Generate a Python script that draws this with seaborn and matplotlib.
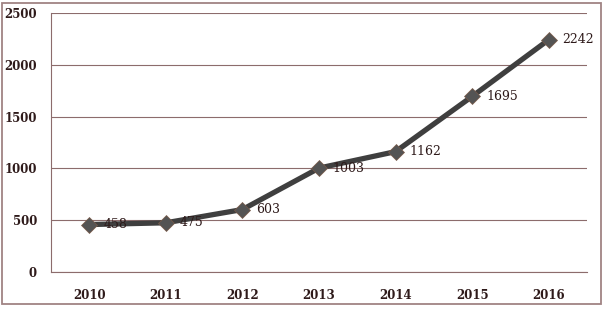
import numpy as np
import pandas as pd
import matplotlib
matplotlib.use("Agg")
import matplotlib.pyplot as plt
import seaborn as sns
from matplotlib.patches import Rectangle

# data
years = ["2010", "2011", "2012", "2013", "2014", "2015", "2016"]
counts = [458, 475, 603, 1003, 1162, 1695, 2242]

df = pd.DataFrame({"year": years, "count": counts})

sns.set_style("white")
plt.rcParams["font.family"] = ["DejaVu Serif"]

brown = "#8c6c6c"
txt = "#2e1a1a"

fig = plt.figure(figsize=(6.11, 3.15), dpi=100)
ax = fig.add_axes([51 / 611, 1 - 272 / 315, 536 / 611, 259 / 315])

# outer chart border
fig.patches.append(Rectangle((2 / 611, 1 - 304 / 315), 599 / 611, 301 / 315,
                             transform=fig.transFigure, fill=False,
                             edgecolor="#a08484", lw=1.3))

sns.lineplot(data=df, x="year", y="count", ax=ax, color="#3f3f3f", lw=3.8,
             marker="D", markersize=8.5, markerfacecolor="#545454",
             markeredgecolor="#7a5a48", markeredgewidth=0.5, zorder=3)

for i, v in enumerate(counts):
    ax.annotate(str(v), (i, v), xytext=(10, 0), textcoords="offset points",
                ha="left", va="center", fontsize=9, color=txt, zorder=4)

ax.set_ylim(0, 2500)
ax.set_yticks(range(0, 2501, 500))
ax.set_xlim(-0.5, len(years) - 0.5)
ax.set_xticks(range(len(years)))
ax.set_xticklabels(years)
ax.set_xticks(np.arange(-0.5, len(years), 1), minor=True)
ax.tick_params(axis="x", which="major", length=0, pad=12, labelsize=8.5,
               labelcolor=txt)
ax.tick_params(axis="x", which="minor", length=5, color=brown, width=0.8)
ax.tick_params(axis="y", length=4, color=brown, width=0.8, labelsize=8.5,
               labelcolor=txt, pad=6)
for lab in ax.get_xticklabels() + ax.get_yticklabels():
    lab.set_fontweight("bold")

ax.grid(axis="y", color=brown, lw=0.8)
ax.set_axisbelow(True)
for s in ["top", "right"]:
    ax.spines[s].set_visible(False)
for s in ["left", "bottom"]:
    ax.spines[s].set_color(brown)
    ax.spines[s].set_linewidth(0.8)
ax.set_xlabel("")
ax.set_ylabel("")

fig.savefig("out.png", dpi=100)
